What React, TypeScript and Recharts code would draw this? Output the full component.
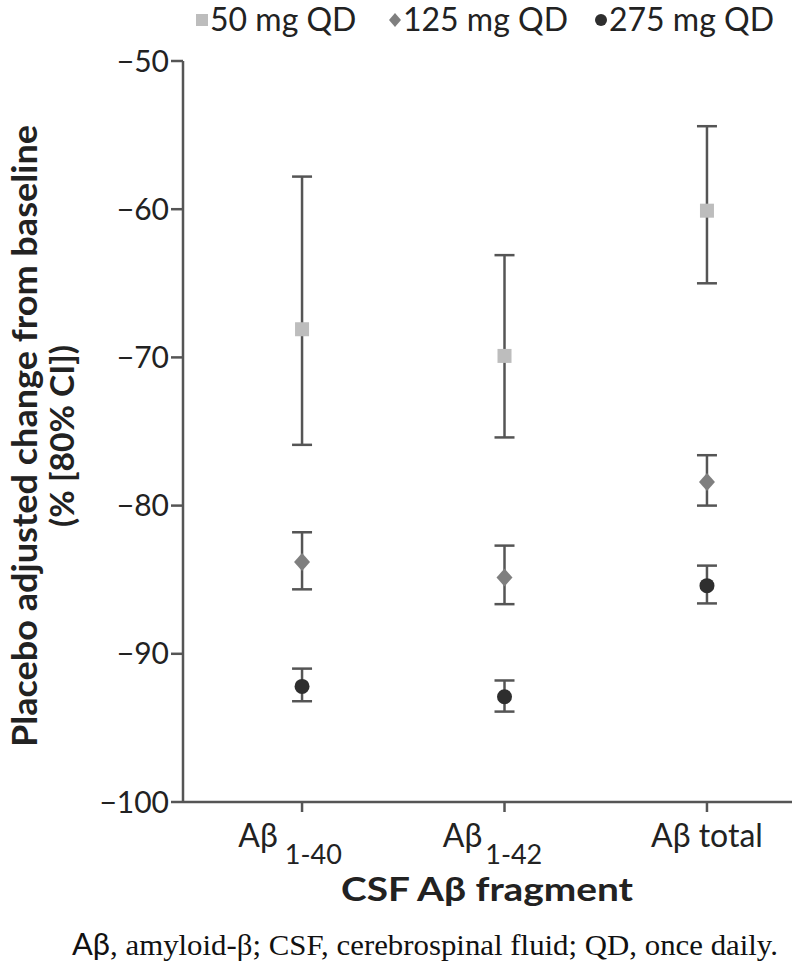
import React from 'react';
import { ScatterChart, Scatter, XAxis, YAxis, ErrorBar, Label } from 'recharts';

const categoryMain = ['Aβ', 'Aβ', 'Aβ total'];
const categorySub = ['1-40', '1-42', ''];
const categoryPos = [1, 2, 3];

const seriesNames = ['50 mg QD', '125 mg QD', '275 mg QD'];

const mean50 = [-68.1, -69.9, -60.1];
const low50 = [-75.9, -75.4, -65.0];
const high50 = [-57.8, -63.1, -54.4];

const mean125 = [-83.8, -84.85, -78.4];
const low125 = [-85.65, -86.65, -80.0];
const high125 = [-81.8, -82.7, -76.6];

const mean275 = [-92.2, -92.9, -85.4];
const low275 = [-93.2, -93.9, -86.6];
const high275 = [-91.0, -91.8, -84.05];

const yTicks = [-100, -90, -80, -70, -60, -50];

const build = (mean: number[], low: number[], high: number[]) =>
  categoryPos.map((x, i) => ({ x, y: mean[i], err: [mean[i] - low[i], high[i] - mean[i]] }));

const data50 = build(mean50, low50, high50);
const data125 = build(mean125, low125, high125);
const data275 = build(mean275, low275, high275);

const colors = ['#bdbdbd', '#7f7f7f', '#2e2e2e'];
const axisColor = '#555555';
const sans = 'Lato, "Noto Sans", sans-serif';
const serif = '"Liberation Serif", "DejaVu Serif", serif';

const Square = (p: any) => <rect x={p.cx - 7} y={p.cy - 7} width={14} height={14} fill={colors[0]} />;
const Diamond = (p: any) => (
  <path d={`M${p.cx},${p.cy - 9}L${p.cx + 8},${p.cy}L${p.cx},${p.cy + 9}L${p.cx - 8},${p.cy}Z`} fill={colors[1]} />
);
const Dot = (p: any) => <circle cx={p.cx} cy={p.cy} r={7.5} fill={colors[2]} />;

const XTick = (props: any) => {
  const { x, y, payload } = props;
  const i = categoryPos.indexOf(payload.value);
  if (i < 0) return null;
  const hasSub = !!categorySub[i];
  return (
    <text x={hasSub ? x - 12 : x} y={y + 33} textAnchor="middle" fontFamily={sans} fontSize={32} fill="#222">
      {categoryMain[i]}
      {hasSub && (
        <tspan dx={categorySub[i] === '1-40' ? 7 : 3} dy={17} fontSize={27}>
          {categorySub[i]}
        </tspan>
      )}
    </text>
  );
};

const YTitle = () => (
  <g fontFamily={sans} fontWeight="bold" fill="#222" textAnchor="middle">
    <text
      x={37}
      y={436}
      fontSize={34}
      textLength={622}
      lengthAdjust="spacingAndGlyphs"
      transform="rotate(-90 37 436)"
    >
      Placebo adjusted change from baseline
    </text>
    <text
      x={74}
      y={436}
      fontSize={33}
      textLength={182}
      lengthAdjust="spacingAndGlyphs"
      transform="rotate(-90 74 436)"
    >
      (% [80% CI])
    </text>
  </g>
);

const legendLeft = [195, 388, 594];

const LegendBox = () => {
  const marks = [
    <rect key="s" x={1} y={4} width={12} height={12} fill={colors[0]} />,
    <path key="d" d="M7,3L13,10L7,17L1,10Z" fill={colors[1]} />,
    <circle key="c" cx={7} cy={10} r={6} fill={colors[2]} />,
  ];
  return (
    <svg width={792} height={44} style={{ position: 'absolute', left: 0, top: 0 }}>
      {seriesNames.map((n, i) => (
        <g key={n} transform={`translate(${legendLeft[i]},10)`}>
          {marks[i]}
          <text x={15} y={21} fontFamily={sans} fontSize={32} fill="#222">
            {n}
          </text>
        </g>
      ))}
    </svg>
  );
};

export default function App() {
  return (
    <div style={{ position: 'absolute', left: 0, top: 0, width: 792, height: 970, background: '#fff' }}>
      <ScatterChart width={792} height={970} margin={{ top: 61, right: 0, bottom: 108, left: 0 }}>
        <XAxis
          type="number"
          dataKey="x"
          domain={[0.412, 3.42]}
          ticks={categoryPos}
          allowDataOverflow
          height={60}
          tick={<XTick />}
          tickSize={10}
          axisLine={{ stroke: axisColor, strokeWidth: 2.5 }}
          tickLine={{ stroke: axisColor, strokeWidth: 2.5 }}
        >
          <Label
            content={() => (
              <text
                x={487}
                y={901}
                textAnchor="middle"
                fontFamily={sans}
                fontWeight="bold"
                fontSize={33}
                textLength={292}
                lengthAdjust="spacingAndGlyphs"
                fill="#222"
              >
                CSF Aβ fragment
              </text>
            )}
          />
        </XAxis>
        <YAxis
          type="number"
          dataKey="y"
          domain={[-100, -50]}
          ticks={yTicks}
          allowDataOverflow
          width={183}
          tickSize={12}
          tickFormatter={(v: number) => `−${Math.abs(v)}`}
          tick={{ fontFamily: sans, fontSize: 30, fill: '#222' }}
          axisLine={{ stroke: axisColor, strokeWidth: 2.5 }}
          tickLine={{ stroke: axisColor, strokeWidth: 2.5 }}
        >
          <Label content={() => <YTitle />} />
        </YAxis>
        <Scatter name={seriesNames[0]} data={data50} shape={Square} isAnimationActive={false}>
          <ErrorBar dataKey="err" direction="y" width={10} stroke={axisColor} strokeWidth={2.5} />
        </Scatter>
        <Scatter name={seriesNames[1]} data={data125} shape={Diamond} isAnimationActive={false}>
          <ErrorBar dataKey="err" direction="y" width={10} stroke={axisColor} strokeWidth={2.5} />
        </Scatter>
        <Scatter name={seriesNames[2]} data={data275} shape={Dot} isAnimationActive={false}>
          <ErrorBar dataKey="err" direction="y" width={10} stroke={axisColor} strokeWidth={2.5} />
        </Scatter>
      </ScatterChart>
      <LegendBox />
      <svg width={792} height={50} style={{ position: 'absolute', left: 0, top: 920 }}>
        <text x={72} y={35} fontFamily={serif} fontSize={30} fill="#111" textLength={706} lengthAdjust="spacingAndGlyphs">
          <tspan fontFamily={sans}>Aβ</tspan>, amyloid-β; CSF, cerebrospinal fluid; QD, once daily.
        </text>
      </svg>
    </div>
  );
}
